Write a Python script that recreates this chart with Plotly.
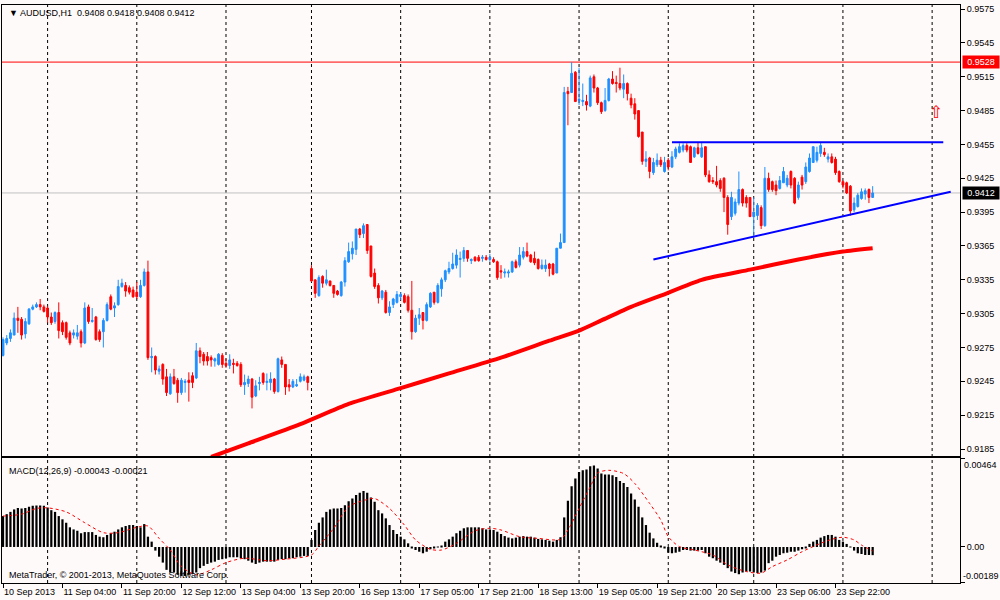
import plotly.graph_objects as go

# ---------------- data ----------------
tick_bars = [0, 16, 32, 48, 64, 80, 96, 112, 128, 144, 160, 176, 192, 208, 224]
tick_text = ["10 Sep 2013", "11 Sep 04:00", "11 Sep 20:00", "12 Sep 12:00", "13 Sep 04:00",
             "13 Sep 20:00", "16 Sep 13:00", "17 Sep 05:00", "17 Sep 21:00", "18 Sep 13:00",
             "19 Sep 05:00", "19 Sep 21:00", "20 Sep 13:00", "23 Sep 06:00", "23 Sep 22:00"]
day_start_bars = [12, 36, 60, 83, 107, 131, 155, 179, 202, 226, 250]

price_ticks = [0.9575, 0.9545, 0.9515, 0.9485, 0.9455, 0.9425, 0.9395, 0.9365, 0.9335,
               0.9305, 0.9275, 0.9245, 0.9215, 0.9185]

# H1 candles, prices in pips (x 0.0001)
open_pips = [9268,9279,9283,9286,9301,9300,9287,9296,9309,9311,9313,9311,9310,9302,9298,9306,9297,9297,9288,9286,
             9285,9289,9279,9311,9298,9302,9289,9289,9299,9320,9310,9313,9329,9330,9328,9326,9324,9320,9330,9342,
             9266,9267,9254,9260,9249,9234,9249,9246,9235,9244,9246,9250,9248,9272,9269,9267,9266,9263,9260,9268,
             9261,9259,9261,9261,9260,9242,9243,9247,9232,9243,9252,9244,9244,9247,9236,9264,9260,9242,9240,9241,
             9245,9246,9249,9345,9335,9321,9338,9332,9334,9330,9325,9321,9333,9351,9358,9362,9380,9376,9384,9365,
             9341,9330,9319,9324,9306,9313,9315,9320,9321,9320,9308,9289,9301,9306,9299,9311,9324,9315,9327,9335,
             9342,9345,9348,9353,9354,9361,9352,9355,9355,9354,9355,9353,9353,9351,9343,9341,9341,9342,9351,9348,
             9355,9360,9357,9354,9353,9345,9345,9349,9349,9341,9363,9368,9502,9501,9519,9494,9493,9493,9489,9515,
             9505,9492,9485,9494,9513,9510,9509,9504,9509,9496,9491,9485,9466,9440,9443,9430,9437,9441,9431,9441,
             9435,9444,9448,9450,9454,9453,9444,9452,9444,9453,9428,9423,9422,9423,9425,9408,9391,9394,9403,9415,
             9408,9408,9391,9392,9399,9383,9425,9422,9419,9416,9421,9419,9431,9425,9408,9426,9422,9431,9439,9441,
             9447,9448,9442,9444,9442,9431,9422,9421,9418,9397,9400,9407,9411,9415,9408]
high_pips = [9284,9286,9291,9306,9311,9302,9301,9310,9313,9315,9318,9313,9312,9306,9307,9315,9299,9298,9290,9291,
             9295,9291,9315,9313,9310,9303,9291,9301,9315,9322,9315,9335,9336,9333,9330,9329,9333,9335,9345,9352,
             9275,9268,9259,9261,9256,9252,9256,9248,9248,9247,9253,9253,9279,9275,9271,9271,9268,9266,9270,9270,
             9265,9269,9265,9263,9262,9251,9250,9248,9246,9249,9253,9252,9253,9248,9266,9267,9260,9247,9247,9247,
             9252,9251,9250,9348,9335,9339,9339,9344,9334,9330,9326,9334,9355,9368,9369,9380,9381,9385,9384,9365,
             9345,9332,9326,9326,9316,9319,9325,9324,9323,9322,9334,9304,9310,9306,9315,9324,9324,9332,9337,9344,
             9351,9359,9362,9360,9364,9361,9354,9356,9357,9357,9357,9358,9355,9352,9348,9345,9344,9352,9353,9364,
             9364,9368,9358,9360,9354,9353,9353,9350,9350,9363,9376,9506,9506,9528,9520,9523,9509,9499,9516,9517,
             9506,9493,9505,9514,9520,9516,9523,9517,9510,9500,9496,9485,9466,9449,9444,9443,9447,9444,9444,9443,
             9449,9453,9456,9456,9456,9454,9453,9457,9457,9453,9432,9426,9436,9425,9426,9410,9413,9407,9431,9416,
             9410,9408,9408,9403,9401,9435,9430,9423,9423,9427,9435,9428,9432,9426,9422,9428,9439,9447,9453,9453,
             9457,9452,9447,9447,9444,9432,9423,9422,9419,9408,9412,9416,9416,9416,9418]
low_pips = [9267,9277,9280,9286,9288,9282,9283,9295,9308,9310,9308,9306,9297,9295,9296,9283,9286,9282,9277,9283,
            9282,9275,9278,9296,9297,9281,9280,9275,9298,9308,9302,9312,9328,9320,9322,9319,9318,9319,9329,9264,
            9253,9251,9251,9242,9232,9233,9242,9226,9233,9235,9227,9239,9247,9261,9259,9259,9258,9258,9259,9257,
            9257,9256,9252,9258,9240,9233,9240,9221,9231,9237,9242,9237,9237,9234,9235,9257,9233,9236,9239,9240,
            9244,9245,9237,9333,9319,9320,9328,9330,9329,9319,9321,9320,9329,9350,9353,9357,9372,9372,9358,9337,
            9327,9314,9317,9305,9303,9310,9314,9317,9314,9306,9282,9288,9295,9291,9298,9310,9313,9314,9320,9333,
            9340,9344,9345,9337,9351,9351,9349,9351,9351,9351,9352,9351,9350,9335,9336,9337,9337,9341,9345,9346,
            9353,9355,9350,9348,9344,9344,9342,9338,9339,9341,9363,9368,9472,9501,9493,9490,9489,9485,9488,9501,
            9490,9482,9484,9493,9508,9501,9503,9496,9494,9487,9477,9461,9437,9435,9425,9428,9435,9435,9430,9432,
            9434,9442,9447,9448,9448,9439,9443,9446,9443,9426,9421,9420,9417,9413,9395,9375,9388,9392,9401,9400,
            9399,9391,9372,9388,9380,9382,9413,9413,9410,9415,9421,9417,9416,9402,9406,9415,9420,9430,9439,9439,
            9444,9444,9439,9438,9428,9421,9416,9411,9392,9395,9399,9406,9406,9403,9408]
close_pips = [9282,9283,9288,9301,9299,9286,9298,9309,9311,9313,9311,9307,9302,9297,9306,9290,9289,9284,9279,9288,
              9288,9279,9310,9298,9299,9282,9282,9299,9313,9309,9312,9329,9332,9325,9324,9320,9320,9330,9342,9266,
              9267,9255,9256,9247,9235,9249,9243,9235,9246,9245,9244,9244,9272,9267,9263,9263,9264,9265,9269,9260,
              9259,9264,9260,9259,9242,9244,9247,9231,9241,9244,9244,9245,9247,9236,9265,9260,9240,9240,9245,9242,
              9249,9249,9244,9334,9323,9337,9332,9335,9330,9323,9322,9333,9352,9360,9363,9380,9375,9383,9361,9338,
              9329,9319,9325,9306,9311,9318,9322,9322,9315,9308,9289,9301,9304,9299,9313,9323,9315,9330,9335,9343,
              9345,9349,9357,9354,9361,9354,9353,9352,9352,9355,9353,9355,9351,9337,9342,9342,9342,9351,9346,9357,
              9360,9356,9351,9350,9345,9348,9348,9345,9340,9363,9368,9501,9500,9518,9493,9495,9494,9490,9514,9505,
              9492,9484,9494,9513,9509,9509,9505,9509,9500,9490,9482,9462,9440,9442,9431,9439,9441,9437,9439,9435,
              9444,9451,9453,9454,9450,9439,9452,9447,9452,9428,9422,9422,9419,9416,9408,9384,9408,9404,9415,9403,
              9403,9391,9395,9401,9383,9425,9415,9415,9414,9423,9431,9425,9419,9403,9419,9419,9435,9443,9453,9448,
              9454,9446,9444,9439,9430,9422,9419,9412,9396,9403,9410,9413,9414,9408,9412]

# 200-period moving average (sampled)
ma_bars = [56, 66, 80, 93, 107, 120, 134, 147, 155, 161, 169, 177, 188, 201, 214, 226, 234]
ma_vals = [0.9178, 0.9190, 0.9207, 0.9225, 0.9239, 0.9252, 0.9266, 0.9281, 0.9290, 0.9299,
           0.9311, 0.9321, 0.9335, 0.9344, 0.9353, 0.9360, 0.9363]

# MACD histogram (x 0.00001)
macd_e5 = [162,172,184,197,205,202,204,211,216,218,
           218,216,207,193,184,162,145,127,103,92,
           85,72,78,78,78,63,54,51,63,72,
           80,92,103,110,115,115,110,103,120,54,
           28,-19,-51,-82,-120,-134,-134,-146,-152,-152,
           -146,-141,-134,-111,-99,-89,-82,-77,-68,-64,
           -59,-54,-54,-54,-59,-64,-72,-82,-89,-82,
           -77,-77,-77,-77,-68,-64,-64,-59,-59,-54,
           -51,-47,-47,37,89,127,155,184,197,202,
           202,205,219,240,254,272,284,293,284,260,
           237,193,176,150,115,89,68,54,40,19,
           -7,-16,-25,-33,-25,-12,-7,-2,5,28,
           40,54,72,85,98,103,103,103,103,98,
           92,92,89,80,68,57,49,45,49,54,
           57,54,54,49,42,40,37,33,28,37,
           51,155,242,319,359,393,402,406,423,427,
           411,385,380,380,376,367,346,336,315,281,
           249,211,155,115,75,45,22,5,-4,-30,
           -33,-30,-25,-16,-16,-19,-19,-19,-16,-33,
           -51,-59,-72,-82,-94,-111,-129,-137,-143,-134,
           -129,-129,-134,-137,-134,-124,-85,-72,-51,-42,
           -33,-30,-25,-25,-19,-12,-7,16,28,37,
           49,57,63,63,54,37,28,16,-2,-19,
           -33,-37,-42,-42,-43]

# MACD signal line (sampled, x 0.00001)
sig_bars = [0,5,9,12,17,22,27,31,36,39,42,45,48,52,56,60,65,71,76,83,85,89,93,98,100,104,108,111,115,118,
            122,127,131,134,139,144,150,152,155,158,160,163,167,170,174,177,179,182,186,191,195,200,204,207,
            211,215,220,223,226,229,231,234]
sig_e5 = [162,172,202,205,184,127,75,75,103,110,45,-16,-103,-146,-120,-82,-59,-72,-64,-42,5,98,211,249,254,
          202,115,37,-12,-16,19,85,98,89,54,45,40,89,202,315,388,402,385,333,228,141,54,2,-16,-42,-94,-129,
          -137,-103,-68,-25,19,40,51,37,10,-21]

# drawn objects
alert_level = 0.9528
bid_level = 0.9412
resistance_bars = [180, 253]
resistance_vals = [0.9457, 0.9457]
trend_bars = [175, 255]
trend_vals = [0.9353, 0.9413]
arrow_bar = 251
arrow_price = 0.9484

macd_top = 0.00464
macd_bottom = -0.00189

# ---------------- figure ----------------
bar_index = list(range(len(close_pips)))
opens = [v / 10000 for v in open_pips]
highs = [v / 10000 for v in high_pips]
lows = [v / 10000 for v in low_pips]
closes = [v / 10000 for v in close_pips]
macd_hist = [v / 100000 for v in macd_e5]
sig_vals = [v / 100000 for v in sig_e5]

FONT = "Liberation Sans"
BG = "#FFFAFA"
BLUE_C = "#1E90FF"

fig = go.Figure()

fig.add_trace(go.Candlestick(
    x=bar_index, open=opens, high=highs, low=lows, close=closes,
    increasing=dict(line=dict(color=BLUE_C, width=1), fillcolor=BLUE_C),
    decreasing=dict(line=dict(color="#FF0000", width=1), fillcolor="#FF0000"),
    whiskerwidth=0, xaxis="x", yaxis="y", hoverinfo="skip", showlegend=False))

fig.add_trace(go.Scatter(x=ma_bars, y=ma_vals, mode="lines",
                         line=dict(color="#FF0000", width=4, shape="spline", smoothing=0.6),
                         xaxis="x", yaxis="y", showlegend=False, hoverinfo="skip"))

fig.add_trace(go.Scatter(x=resistance_bars, y=resistance_vals, mode="lines",
                         line=dict(color="#0000FF", width=2),
                         xaxis="x", yaxis="y", showlegend=False, hoverinfo="skip"))
fig.add_trace(go.Scatter(x=trend_bars, y=trend_vals, mode="lines",
                         line=dict(color="#0000FF", width=2),
                         xaxis="x", yaxis="y", showlegend=False, hoverinfo="skip"))

fig.add_trace(go.Bar(x=bar_index, y=macd_hist, marker=dict(color="black", line=dict(width=0)),
                     width=0.6, xaxis="x2", yaxis="y2", showlegend=False, hoverinfo="skip"))
fig.add_trace(go.Scatter(x=sig_bars, y=sig_vals, mode="lines",
                         line=dict(color="#FF0000", width=1, dash="dot", shape="spline", smoothing=0.8),
                         xaxis="x2", yaxis="y2", showlegend=False, hoverinfo="skip"))

shapes = []
for b in day_start_bars:
    shapes.append(dict(type="line", xref="x", yref="paper", x0=b, x1=b, y0=0, y1=1,
                       line=dict(color="black", width=1, dash="dot"), layer="below"))
shapes.append(dict(type="line", xref="paper", yref="y", x0=0, x1=1, y0=alert_level, y1=alert_level,
                   line=dict(color="#FF0000", width=1), layer="below"))
shapes.append(dict(type="line", xref="paper", yref="y", x0=0, x1=1, y0=bid_level, y1=bid_level,
                   line=dict(color="#C0C0C0", width=1), layer="below"))

xr = [-0.27, 257.5]
axis_line = dict(showline=True, mirror=True, linecolor="black", linewidth=1,
                 showgrid=False, zeroline=False, fixedrange=True)

annotations = [
    dict(xref="paper", yref="paper", x=0, y=1, xanchor="left", yanchor="top", xshift=5, yshift=-1,
         text="\u25bc AUDUSD,H1\u00a0\u00a00.9408 0.9418 0.9408 0.9412", showarrow=False,
         font=dict(family=FONT, size=9, color="black")),
    dict(xref="paper", yref="paper", x=0, y=0.2154, xanchor="left", yanchor="top", xshift=5, yshift=-6,
         text="MACD(12,26,9) -0.00043 -0.00021", showarrow=False,
         font=dict(family=FONT, size=9, color="black")),
    dict(xref="paper", yref="paper", x=0, y=0, xanchor="left", yanchor="bottom", xshift=5, yshift=1,
         text="MetaTrader, \u00a9 2001-2013, MetaQuotes Software Corp.", showarrow=False,
         font=dict(family=FONT, size=9, color="black")),
    dict(xref="paper", yref="y", x=1, y=alert_level, xanchor="left", yanchor="middle", xshift=2,
         text="0.9528", showarrow=False, bgcolor="#FF0000", borderpad=1, width=34,
         font=dict(family=FONT, size=9, color="white")),
    dict(xref="paper", yref="y", x=1, y=bid_level, xanchor="left", yanchor="middle", xshift=2,
         text="0.9412", showarrow=False, bgcolor="black", borderpad=1, width=34,
         font=dict(family=FONT, size=9, color="white")),
    dict(xref="paper", yref="y2", x=1, y=macd_top, xanchor="left", yanchor="top", xshift=2,
         text="0.00464", showarrow=False, font=dict(family=FONT, size=9, color="black")),
    dict(xref="paper", yref="y2", x=1, y=macd_bottom, xanchor="left", yanchor="bottom", xshift=1,
         text="-0.00189", showarrow=False, font=dict(family=FONT, size=9, color="black")),
    dict(xref="x", yref="y", x=arrow_bar, y=arrow_price, text="\u21e7", showarrow=False,
         font=dict(family="DejaVu Sans", size=17, color="#FF0000")),
]

fig.update_layout(
    width=1000, height=600,
    margin=dict(l=2, r=40, t=5, b=17),
    paper_bgcolor=BG, plot_bgcolor=BG,
    hovermode=False, showlegend=False,
    bargap=0.3,
    xaxis=dict(domain=[0, 1], range=xr, anchor="y", showticklabels=False, ticks="",
               rangeslider=dict(visible=False), **axis_line),
    xaxis2=dict(domain=[0, 1], range=xr, anchor="y2", matches="x",
                tickvals=tick_bars, ticktext=tick_text, ticks="outside", ticklen=4, tickcolor="black",
                ticklabelposition="outside right", tickangle=0,
                tickfont=dict(family=FONT, size=9, color="black"), **axis_line),
    yaxis=dict(domain=[0.2197, 1], range=[0.91788, 0.95786], anchor="x", side="right",
               tickvals=price_ticks, ticktext=[f"{v:.4f}" for v in price_ticks],
               ticks="outside", ticklen=4, tickcolor="black",
               tickfont=dict(family=FONT, size=9, color="black"), **axis_line),
    yaxis2=dict(domain=[0, 0.2154], range=[macd_bottom, macd_top], anchor="x2", side="right",
                tickvals=[macd_top, 0, macd_bottom], ticktext=["", "0.00", ""],
                ticks="outside", ticklen=4, tickcolor="black",
                tickfont=dict(family=FONT, size=9, color="black"), **axis_line),
    shapes=shapes,
    annotations=annotations,
)

fig.write_html("out.html", config={"displayModeBar": False},
               post_script="document.body.style.margin='0px';document.body.style.padding='0px';"
                           "document.body.style.overflow='hidden';")
